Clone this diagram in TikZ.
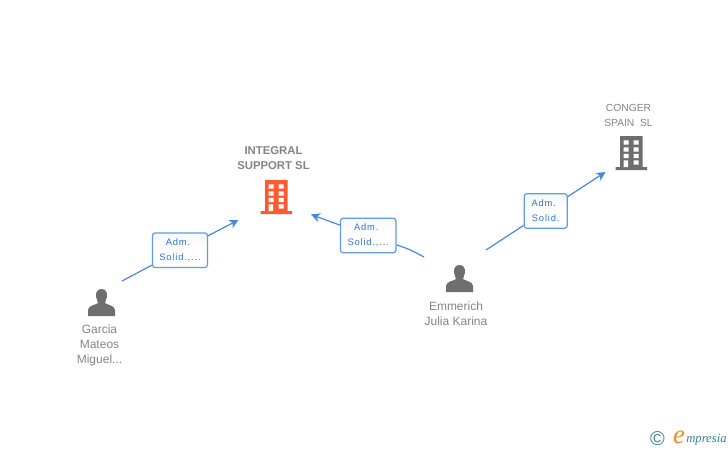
\documentclass[tikz,border=0pt]{standalone}
\usepackage{fontspec}
\setmainfont{Liberation Sans}
\newfontfamily\spacedfont[LetterSpace=9]{Liberation Sans}
\newfontfamily\logofont{Liberation Serif}
\usetikzlibrary{arrows.meta}
\definecolor{linkblue}{HTML}{4A86E0}
\definecolor{boxblue}{HTML}{5F9BE6}
\definecolor{textblue}{HTML}{2F72D6}
\definecolor{labelgrey}{HTML}{858585}
\definecolor{icongrey}{HTML}{6E6E6E}
\definecolor{iconred}{HTML}{FF5A30}
\definecolor{logoorange}{HTML}{F08A1D}
\definecolor{logoteal}{HTML}{3E7F96}
\tikzset{>={Stealth[length=6.75pt,width=6.75pt,inset=1.9pt]}}
\tikzset{
  px/.style={x=0.75pt,y=-0.75pt},
  link/.style={linkblue, line width=0.9pt},
  rolebox/.style={draw=boxblue, line width=0.9pt, rounded corners=2pt, top color=black!3, bottom color=white,
    middle color=white, inner sep=0pt, align=center, font=\spacedfont\fontsize{7}{11.3}\selectfont,
    text=textblue},
  partyname/.style={text=labelgrey, align=center, inner sep=0pt, font=\fontsize{9}{11.4}\selectfont},
  pics/building/.style={code={
    \fill[#1] (-11.3,0) rectangle (11,31) (-16,31) rectangle (15.5,34);
    \foreach \wy in {4.3,11.3,17.8} {
      \fill[white] (-8,\wy) rectangle (-3,\wy+4.2) (2,\wy) rectangle (7,\wy+4.2);
    }
    \fill[white] (-8,24.3) rectangle (-3.5,31) (2,24.3) rectangle (7,28.5);
  }},
  pics/person/.style={code={
    \fill[icongrey] (0,0) .. controls (4,0) and (6,3.5) .. (5.5,7.5) .. controls (5.2,10.5) and (3.5,12.5) .. (3.5,14)
      .. controls (6,16) and (13.5,16.5) .. (13.5,21) -- (13.5,27) -- (-13.5,27) -- (-13.5,21)
      .. controls (-13.5,16.5) and (-6,16) .. (-3.5,14) .. controls (-3.5,12.5) and (-5.2,10.5) .. (-5.5,7.5)
      .. controls (-6,3.5) and (-4,0) .. (0,0) -- cycle;
  }}
}
\begin{document}
\begin{tikzpicture}[px]
  \useasboundingbox[fill=white] (0,0) rectangle (728,450);
  % companies
  \node[partyname, font=\bfseries\fontsize{8.5}{11.4}\selectfont] (integral) at (273.5,158) {INTEGRAL\\SUPPORT SL};
  \pic at (276.5,180) {building=iconred};
  \node[partyname, font=\fontsize{7.7}{11.2}\selectfont] (conger) at (628.5,115) {CONGER\\SPAIN\ \ SL};
  \pic at (631.5,136) {building=icongrey};
  % persons
  \pic at (101.5,289) {person};
  \node[partyname] (garcia) at (99.5,345.5) {Garcia\\Mateos\\Miguel...};
  \pic at (459.5,265) {person};
  \node[partyname] (emmerich) at (456,313.5) {Emmerich\\Julia Karina};
  % role boxes
  \node[rolebox, minimum width=41.25pt, minimum height=25.9pt] (roleGarcia) at (180,250.3) {Adm.\hspace*{3pt}\\Solid.,...};
  \node[rolebox, minimum width=41.6pt, minimum height=25.9pt] (roleEmmerich) at (368.2,235.5) {Adm.\hspace*{3pt}\\Solid.,...};
  \node[rolebox, minimum width=32.25pt, minimum height=25.9pt] (roleConger) at (545.7,211) {Adm.\hspace*{3pt}\\Solid.};
  % free ends of the links
  \coordinate (garciaFrom) at (122,281);
  \coordinate (integralLeft) at (238.5,220);
  \coordinate (emmerichFrom) at (424,257);
  \coordinate (integralRight) at (311,214.5);
  \coordinate (emmerichTo) at (486,250);
  \coordinate (congerIn) at (605.5,172);
  % links
  \draw[link] (garciaFrom) -- (roleGarcia);
  \draw[link, ->] (roleGarcia) -- (integralLeft);
  \draw[link] (emmerichFrom) .. controls (409,249) .. (roleEmmerich);
  \draw[link, ->] (roleEmmerich) -- (integralRight);
  \draw[link] (emmerichTo) -- (roleConger);
  \draw[link, ->] (roleConger) -- (congerIn);
  % logo
  \node[text=logoteal, inner sep=0pt, font=\fontsize{15}{15}\selectfont] (copyright) at (657.5,438.5) {©};
  \node[text=logoorange, inner sep=0pt, font=\logofont\itshape\fontsize{20}{20}\selectfont] (logoE) at (679,437) {e};
  \node[text=logoteal, inner sep=0pt, anchor=west, font=\logofont\itshape\fontsize{9.5}{10}\selectfont] (logoText) at (686,440) {mpresia};
\end{tikzpicture}
\end{document}
